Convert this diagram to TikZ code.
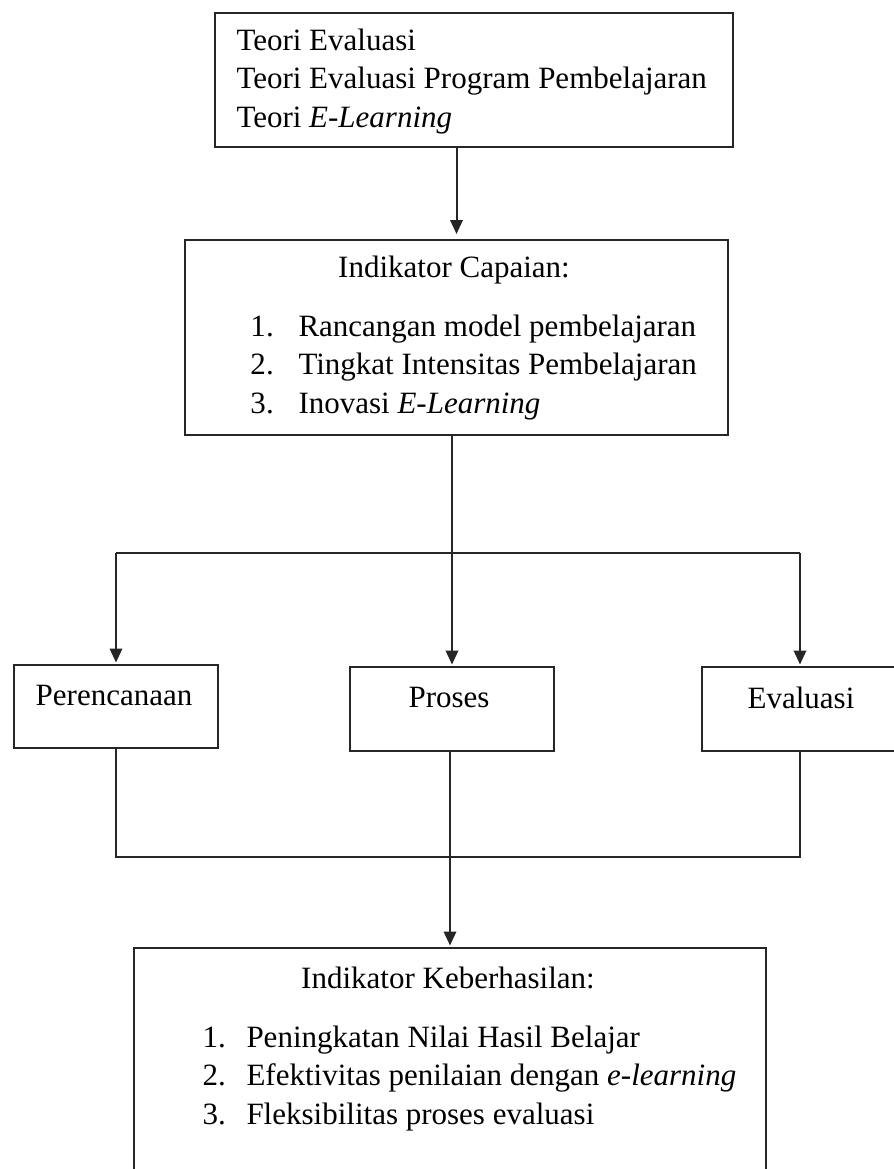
\documentclass[tikz,border=0pt]{standalone}
\usepackage{fontspec}
\setmainfont{Liberation Serif}
\usetikzlibrary{arrows.meta}

\begin{document}
\begin{tikzpicture}[
  x=0.4pt, y=-0.4pt,
  box/.style={draw=black!85, line width=0.9pt, rectangle,
              inner sep=0pt, outer sep=0pt, anchor=center},
  txt/.style={font=\fontsize{12.4}{15.4}\selectfont, inner sep=0pt,
              anchor=base west},
  lnk/.style={draw=black!85, line width=0.8pt},
  arr/.style={lnk, -{Triangle[width=5pt, length=5.6pt]}, shorten >=1pt},
]
\def\gap{38.5}  % line spacing
% Frame
\path[use as bounding box] (0,0) rectangle (894,1169);
\clip (0,0) rectangle (894,1169);
% Boxes
\node[box, minimum width=207.2pt, minimum height=53.6pt] (teori) at (474,80) {};
\node[box, minimum width=217.2pt, minimum height=78pt] (capaian) at (456.5,337.5) {};
\node[box, minimum width=81.6pt, minimum height=33.2pt] (rencana) at (116,706.5) {};
\node[box, minimum width=81.6pt, minimum height=33.6pt] (proses) at (452,709) {};
\node[box, minimum width=78.4pt, minimum height=33.6pt] (evaluasi) at (800,709) {};
\node[box, minimum width=252.8pt, minimum height=120pt] (hasil) at (450,1098) {};
% Theory lines
\foreach \t [count=\k] in {Teori Evaluasi, Teori Evaluasi Program Pembelajaran,
                           Teori \textit{E-Learning}}
  \node[txt] (teori\k) at (236,{50+(\k-1)*\gap}) {\t};
% Indikator Capaian
\node[txt, anchor=base] (capH) at (454,277) {Indikator Capaian:};
\foreach \t [count=\k] in {Rancangan model pembelajaran, Tingkat Intensitas Pembelajaran,
                           Inovasi \textit{E-Learning}} {
  \node[txt] (capN\k) at (250,{336+(\k-1)*\gap}) {\k.};
  \node[txt] (cap\k) at (298,{336+(\k-1)*\gap}) {\t};
}
% Stage labels
\node[txt, anchor=base] (rencanaT) at (114,705) {Perencanaan};
\node[txt, anchor=base] (prosesT) at (449,707) {Proses};
\node[txt, anchor=base] (evaluasiT) at (801,708) {Evaluasi};
% Indikator Keberhasilan
\node[txt, anchor=base] (hasH) at (448,988) {Indikator Keberhasilan:};
\foreach \t [count=\k] in {Peningkatan Nilai Hasil Belajar,
                           Efektivitas penilaian dengan \textit{e-learning},
                           Fleksibilitas proses evaluasi} {
  \node[txt] (hasN\k) at (202,{1047+(\k-1)*\gap}) {\k.};
  \node[txt] (has\k) at (246,{1047+(\k-1)*\gap}) {\t};
}
% Connectors
\coordinate (split) at (452,553);
\coordinate (join) at (450,857);
\draw[arr, shorten >=2.4pt] (capaian.north |- teori.south) -- (capaian.north);
\draw[arr] (proses.north |- capaian.south) -- (proses.north);
\draw[lnk] (rencana.north |- split) -- (evaluasi.north |- split);
\draw[arr] (rencana.north |- split) -- (rencana.north);
\draw[arr] (evaluasi.north |- split) -- (evaluasi.north);
\draw[lnk] (rencana.south) -- (rencana.south |- join)
  -- (evaluasi.south |- join) -- (evaluasi.south);
\draw[arr] (hasil.north |- proses.south) -- (hasil.north);
\end{tikzpicture}
\end{document}
